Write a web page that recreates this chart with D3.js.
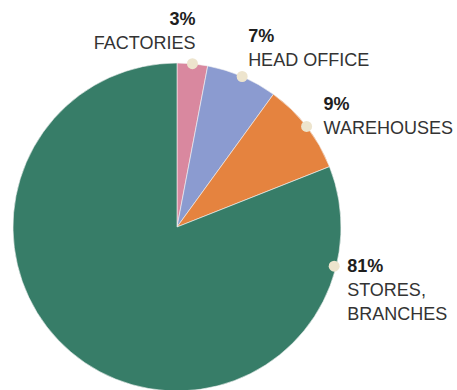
<!DOCTYPE html>
<html>
<head>
<meta charset="utf-8">
<script src="https://cdn.jsdelivr.net/npm/d3@7"></script>
<style>
    body { margin: 0; background: #fff; }
    text { font-family: "Liberation Sans", Arial, sans-serif; font-size: 18px; fill: #333; }
    .pct { font-weight: bold; fill: #1e1e1e; }
</style>
</head>
<body>
<div id="chart"></div>
<script>
// data
var categories = ["FACTORIES", "HEAD OFFICE", "WAREHOUSES", "STORES, BRANCHES"];
var shares = [3, 7, 9, 81];
var labelLines = [["FACTORIES"], ["HEAD OFFICE"], ["WAREHOUSES"], ["STORES,", "BRANCHES"]];
var colors = ["#d9889f", "#8b9bd0", "#e5833f", "#377d68"];

var width = 457, height = 390;
var cx = 177, cy = 227, radius = 164;

// where each label sits relative to its dot (layout only)
var labelLayout = [
    { anchor: "end", dx: 3, dy: -39, angle: null },
    { anchor: "start", dx: 6, dy: -35, angle: null },
    { anchor: "start", dx: 17, dy: -16, angle: null },
    { anchor: "start", dx: 13, dy: 6, angle: 104 }
];

var svg = d3.select("#chart")
    .append("svg")
    .attr("width", width)
    .attr("height", height);

var pie = d3.pie()
    .sort(null)
    .value(function (d) { return d; });

var arc = d3.arc()
    .innerRadius(0)
    .outerRadius(radius);

var arcs = pie(shares);

var g = svg.append("g")
    .attr("transform", "translate(" + cx + "," + cy + ")");

g.selectAll("path")
    .data(arcs)
    .enter()
    .append("path")
    .attr("d", arc)
    .attr("fill", function (d, i) { return colors[i]; })
    .attr("stroke", "#f4f4f4")
    .attr("stroke-width", 0.6);

// dot position on the rim
function dotPos(d, i) {
    var a = labelLayout[i].angle != null
        ? labelLayout[i].angle * Math.PI / 180
        : (d.startAngle + d.endAngle) / 2;
    var r = labelLayout[i].angle != null ? radius - 2 : radius;
    return [r * Math.sin(a), -r * Math.cos(a)];
}

var labels = g.selectAll(".lbl")
    .data(arcs)
    .enter()
    .append("g")
    .attr("class", "lbl");

labels.append("circle")
    .attr("cx", function (d, i) { return dotPos(d, i)[0]; })
    .attr("cy", function (d, i) { return dotPos(d, i)[1]; })
    .attr("r", 5.5)
    .attr("fill", "#ede4cd");

labels.append("text")
    .attr("class", "pct")
    .attr("text-anchor", function (d, i) { return labelLayout[i].anchor; })
    .attr("x", function (d, i) { return dotPos(d, i)[0] + labelLayout[i].dx; })
    .attr("y", function (d, i) { return dotPos(d, i)[1] + labelLayout[i].dy; })
    .text(function (d, i) { return shares[i] + "%"; });

labels.each(function (d, i) {
    var p = dotPos(d, i);
    var L = labelLayout[i];
    d3.select(this).selectAll(".name")
        .data(labelLines[i])
        .enter()
        .append("text")
        .attr("class", "name")
        .attr("text-anchor", L.anchor)
        .attr("x", p[0] + L.dx)
        .attr("y", function (t, j) { return p[1] + L.dy + 24 * (j + 1); })
        .text(function (t) { return t; });
});
</script>
</body>
</html>
